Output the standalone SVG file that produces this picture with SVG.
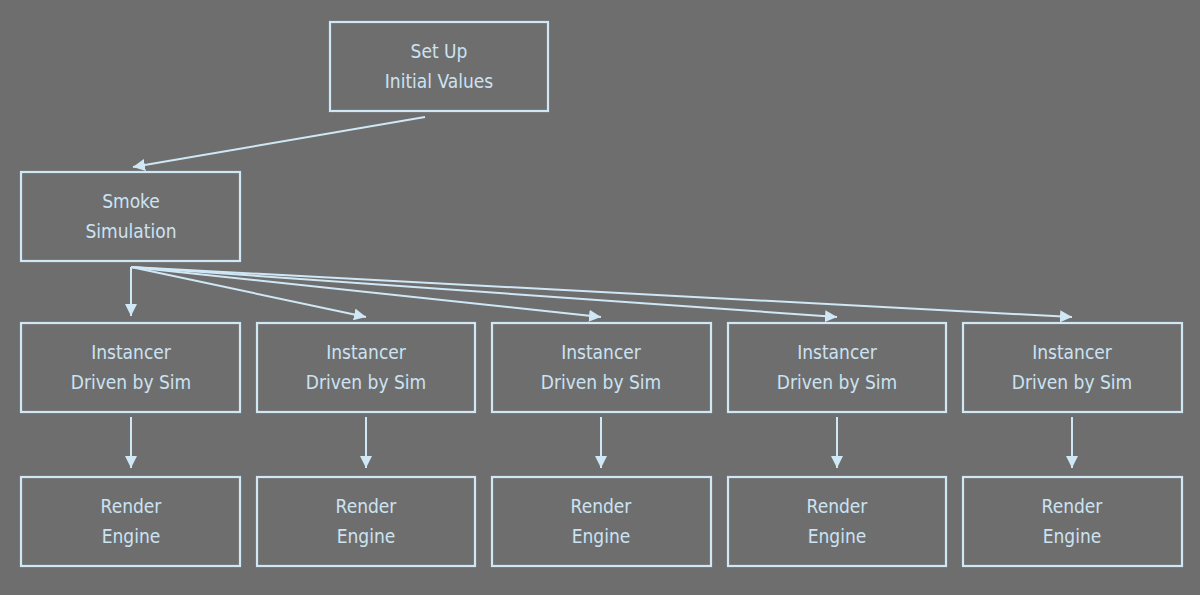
<svg xmlns="http://www.w3.org/2000/svg" width="1200" height="595" viewBox="0 0 1200 595">
<style>
.box{fill:none;stroke:#d0e7f6;stroke-width:2.2}
.t{font-family:"DejaVu Sans Condensed","DejaVu Sans",sans-serif;font-size:19px;fill:#cce3f2;text-anchor:middle}
.c{stroke:#d0e7f6;stroke-width:2;fill:none;marker-end:url(#ah)}
</style>
<defs>
<marker id="ah" viewBox="0 0 10 10" refX="10" refY="5" markerWidth="6" markerHeight="6" markerUnits="strokeWidth" orient="auto">
<path d="M0,0 L10,5 L0,10 Z" fill="#d0e7f6"/>
</marker>
</defs>
<rect width="1200" height="595" fill="#6e6e6e"/>
<g id="connectors">
<line class="c" x1="425" y1="117" x2="133" y2="167"/>
<line class="c" x1="131" y1="267" x2="131" y2="316"/>
<line class="c" x1="131" y1="267" x2="366" y2="317"/>
<line class="c" x1="131" y1="267" x2="601" y2="317"/>
<line class="c" x1="131" y1="267" x2="837" y2="317"/>
<line class="c" x1="131" y1="267" x2="1072" y2="317"/>
<line class="c" x1="131" y1="417" x2="131" y2="468"/>
<line class="c" x1="366" y1="417" x2="366" y2="468"/>
<line class="c" x1="601" y1="417" x2="601" y2="468"/>
<line class="c" x1="837" y1="417" x2="837" y2="468"/>
<line class="c" x1="1072" y1="417" x2="1072" y2="468"/>
</g>
<g id="setup"><rect class="box" x="330" y="22" width="218" height="89"/><text class="t" x="439" y="58">Set Up</text><text class="t" x="439" y="88">Initial Values</text></g>
<g id="smoke"><rect class="box" x="21" y="172" width="219" height="89"/><text class="t" x="131" y="208">Smoke</text><text class="t" x="131" y="238">Simulation</text></g>
<g id="inst1"><rect class="box" x="21" y="323" width="219" height="89"/><text class="t" x="131" y="359">Instancer</text><text class="t" x="131" y="389">Driven by Sim</text></g>
<g id="inst2"><rect class="box" x="257" y="323" width="218" height="89"/><text class="t" x="366" y="359">Instancer</text><text class="t" x="366" y="389">Driven by Sim</text></g>
<g id="inst3"><rect class="box" x="492" y="323" width="219" height="89"/><text class="t" x="601" y="359">Instancer</text><text class="t" x="601" y="389">Driven by Sim</text></g>
<g id="inst4"><rect class="box" x="728" y="323" width="218" height="89"/><text class="t" x="837" y="359">Instancer</text><text class="t" x="837" y="389">Driven by Sim</text></g>
<g id="inst5"><rect class="box" x="963" y="323" width="219" height="89"/><text class="t" x="1072" y="359">Instancer</text><text class="t" x="1072" y="389">Driven by Sim</text></g>
<g id="render1"><rect class="box" x="21" y="477" width="219" height="89"/><text class="t" x="131" y="513">Render</text><text class="t" x="131" y="543">Engine</text></g>
<g id="render2"><rect class="box" x="257" y="477" width="218" height="89"/><text class="t" x="366" y="513">Render</text><text class="t" x="366" y="543">Engine</text></g>
<g id="render3"><rect class="box" x="492" y="477" width="219" height="89"/><text class="t" x="601" y="513">Render</text><text class="t" x="601" y="543">Engine</text></g>
<g id="render4"><rect class="box" x="728" y="477" width="218" height="89"/><text class="t" x="837" y="513">Render</text><text class="t" x="837" y="543">Engine</text></g>
<g id="render5"><rect class="box" x="963" y="477" width="219" height="89"/><text class="t" x="1072" y="513">Render</text><text class="t" x="1072" y="543">Engine</text></g>
</svg>
